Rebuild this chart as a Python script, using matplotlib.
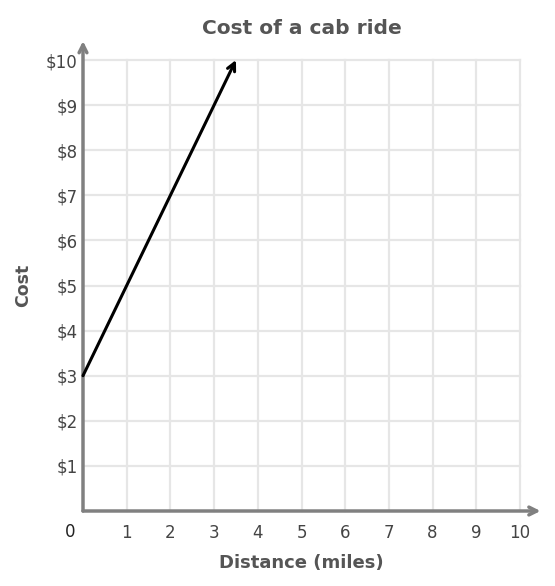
import matplotlib
matplotlib.use("Agg")
import matplotlib.pyplot as plt

# data
miles = [0, 3.5]
cost = [3, 10]
x_ticks = [1, 2, 3, 4, 5, 6, 7, 8, 9, 10]
y_ticks = [1, 2, 3, 4, 5, 6, 7, 8, 9, 10]
y_labels = ["$" + str(v) for v in y_ticks]

plt.rcParams['font.family'] = ['DejaVu Sans']

fig = plt.figure(figsize=(5.55, 5.86), dpi=100)
ax = fig.add_axes([83 / 555, 1 - 511 / 586, 437 / 555, 451 / 586])
ax.set_xlim(0, 10)
ax.set_ylim(0, 10)

# grid
for v in x_ticks:
    ax.axvline(v, color='#e6e6e6', lw=1.6, zorder=1, clip_on=False)
for v in y_ticks:
    ax.axhline(v, color='#e6e6e6', lw=1.6, zorder=1, clip_on=False)

for s in ax.spines.values():
    s.set_visible(False)

# axes with arrows
ax.annotate("", xy=(10.47, 0), xytext=(0, 0), xycoords='data',
            arrowprops=dict(arrowstyle='->', color='#808080', lw=2.5,
                            shrinkA=0, shrinkB=0, mutation_scale=14),
            annotation_clip=False, zorder=3)
ax.annotate("", xy=(0, 10.42), xytext=(0, 0), xycoords='data',
            arrowprops=dict(arrowstyle='->', color='#808080', lw=2.5,
                            shrinkA=0, shrinkB=0, mutation_scale=14),
            annotation_clip=False, zorder=3)

# cost line
ax.annotate("", xy=(miles[1], cost[1]), xytext=(miles[0], cost[0]),
            arrowprops=dict(arrowstyle='->', color='black', lw=2.2,
                            shrinkA=0, shrinkB=0, mutation_scale=14),
            annotation_clip=False, zorder=4)

ax.set_xticks(x_ticks)
ax.set_xticklabels([str(v) for v in x_ticks])
ax.set_yticks(y_ticks)
ax.set_yticklabels(y_labels)
ax.tick_params(length=0, labelsize=12, labelcolor='#444444')
ax.tick_params(axis='x', pad=9)
ax.tick_params(axis='y', pad=4)
ax.text(-0.3, -0.47, "0", ha='center', va='center', fontsize=12, color='#222222')

ax.set_title("Cost of a cab ride", fontsize=14.5, fontweight='bold', color='#555555', pad=19)
ax.set_xlabel("Distance (miles)", fontsize=13, fontweight='bold', color='#555555', labelpad=9)
ax.set_ylabel("Cost", fontsize=12.5, fontweight='bold', color='#555555', labelpad=10)

fig.savefig("out.png", dpi=100)
